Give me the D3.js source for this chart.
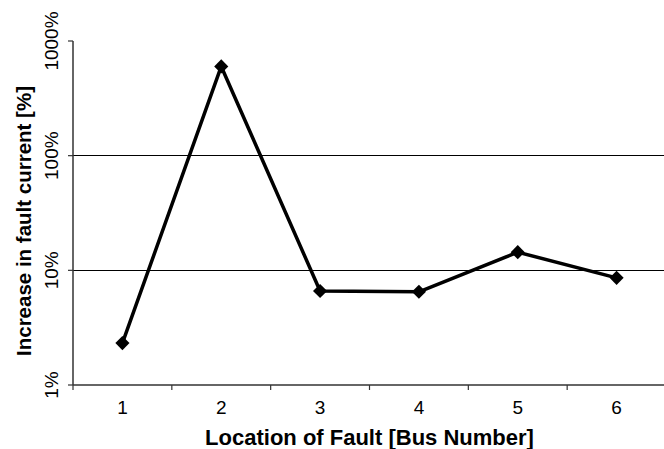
<!DOCTYPE html>
<html>
<head>
<meta charset="utf-8">
<script src="https://cdn.jsdelivr.net/npm/d3@7"></script>
<style>
  html, body { margin: 0; padding: 0; background: #fff; }
  svg { display: block; font-family: "Liberation Sans", Arial, sans-serif; }
</style>
</head>
<body>
<svg id="chart" width="664" height="449"></svg>
<script>
// Fault locations (bus numbers) and the increase in fault current, in percent
const buses = ["1", "2", "3", "4", "5", "6"];
const increasePct = [2.32, 600, 6.6, 6.5, 14.4, 8.6];
const yTicks = [1, 10, 100, 1000];
const gridValues = [10, 100];

const svg = d3.select("#chart");
const plotLeft = 73, plotRight = 666, plotTop = 41, plotBottom = 385;

const x = d3.scaleBand().domain(buses).range([plotLeft, plotRight]).padding(0);
const y = d3.scaleLog().domain([1, 1000]).range([plotBottom, plotTop]);

// Horizontal gridlines
svg.append("g")
  .selectAll("line")
  .data(gridValues)
  .join("line")
  .attr("x1", plotLeft).attr("x2", 664)
  .attr("y1", d => y(d)).attr("y2", d => y(d))
  .attr("stroke", "#000").attr("stroke-width", 1)
  .attr("shape-rendering", "crispEdges");

// X axis with ticks between categories
const xAxis = svg.append("g")
  .attr("transform", `translate(0,${plotBottom})`);
xAxis.append("line")
  .attr("x1", plotLeft).attr("x2", 664)
  .attr("stroke", "#333").attr("stroke-width", 1.5);
xAxis.selectAll("line.tick")
  .data(buses.concat([null]))
  .join("line")
  .attr("class", "tick")
  .attr("x1", (d, i) => x.range()[0] + i * x.bandwidth())
  .attr("x2", (d, i) => x.range()[0] + i * x.bandwidth())
  .attr("y1", 0).attr("y2", 5)
  .attr("stroke", "#333").attr("stroke-width", 1.2);
xAxis.selectAll("text")
  .data(buses)
  .join("text")
  .attr("x", d => x(d) + x.bandwidth() / 2)
  .attr("y", 29)
  .attr("text-anchor", "middle")
  .attr("font-size", 19)
  .attr("fill", "#000")
  .text(d => d);

// Y axis
const yAxis = svg.append("g");
yAxis.append("line")
  .attr("x1", plotLeft).attr("x2", plotLeft)
  .attr("y1", plotTop).attr("y2", plotBottom)
  .attr("stroke", "#333").attr("stroke-width", 1.5);
yAxis.selectAll("line.tick")
  .data(yTicks)
  .join("line")
  .attr("class", "tick")
  .attr("x1", plotLeft - 5).attr("x2", plotLeft)
  .attr("y1", d => y(d)).attr("y2", d => y(d))
  .attr("stroke", "#333").attr("stroke-width", 1.2);
yAxis.selectAll("text")
  .data(yTicks)
  .join("text")
  .attr("transform", d => `translate(58,${y(d)}) rotate(-90)`)
  .attr("text-anchor", "middle")
  .attr("font-size", 19)
  .attr("fill", "#000")
  .text(d => d + "%");

// Axis titles
svg.append("text")
  .attr("x", (plotLeft + plotRight) / 2)
  .attr("y", 445)
  .attr("text-anchor", "middle")
  .attr("font-size", 22)
  .attr("font-weight", "bold")
  .text("Location of Fault [Bus Number]");
svg.append("text")
  .attr("transform", `translate(31,221) rotate(-90)`)
  .attr("text-anchor", "middle")
  .attr("font-size", 20.5)
  .attr("font-weight", "bold")
  .text("Increase in fault current [%]");

// Data line and diamond markers
const pts = buses.map((b, i) => [x(b) + x.bandwidth() / 2, y(increasePct[i])]);
svg.append("path")
  .datum(pts)
  .attr("d", d3.line())
  .attr("fill", "none")
  .attr("stroke", "#000")
  .attr("stroke-width", 3.5)
  .attr("stroke-linejoin", "round");
svg.append("g")
  .selectAll("path")
  .data(pts)
  .join("path")
  .attr("transform", d => `translate(${d[0]},${d[1]}) rotate(45)`)
  .attr("d", d3.symbol(d3.symbolSquare, 100))
  .attr("fill", "#000");
</script>
</body>
</html>
